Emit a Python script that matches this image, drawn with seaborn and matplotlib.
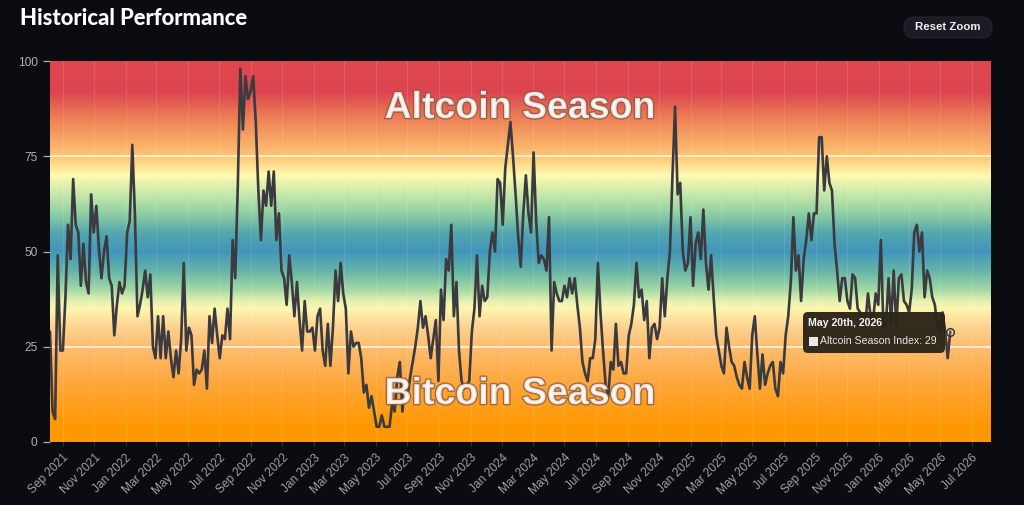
import numpy as np
import pandas as pd
import seaborn as sns
import matplotlib
matplotlib.use("Agg")
import matplotlib.pyplot as plt
import matplotlib.dates as mdates
import matplotlib.patheffects as pe
from matplotlib.colors import LinearSegmentedColormap
from matplotlib.patches import FancyBboxPatch, Rectangle

START_DATE = "2021-08-07"
END_DATE = "2026-05-20"
TITLE = "Historical Performance"
BUTTON = "Reset Zoom"
SERIES_NAME = "Altcoin Season Index"
TOOLTIP_DATE = "May 20th, 2026"
Y_TICKS = [0, 25, 50, 75, 100]

part_2021_22 = [29, 8, 6, 49, 24, 24, 38, 57, 48, 69, 57, 55, 41, 52, 42, 39, 65, 55, 62, 51,
                43, 50, 54, 43, 41, 28, 36, 42, 39, 41, 55, 58, 78, 60, 33, 36, 40, 45, 38, 44,
                25, 22, 33, 22, 33, 22, 29, 22, 17, 24, 18, 27, 47, 24, 30, 28, 15, 19]
part_2022_23 = [18, 19, 24, 14, 33, 26, 35, 28, 22, 28, 27, 35, 27, 53, 43, 67, 98, 82, 96, 90,
                92, 96, 84, 66, 53, 66, 62, 71, 62, 71, 53, 60, 45, 43, 36, 49, 42, 33, 42, 32,
                24, 37, 29, 29, 30, 24, 33, 35, 24, 20, 31, 20, 30, 45, 37, 47, 39, 35]
part_2023_24 = [18, 29, 25, 26, 26, 22, 13, 15, 9, 12, 8, 4, 4, 7, 4, 4, 4, 10, 8, 17,
                21, 8, 15, 12, 17, 21, 25, 30, 37, 30, 33, 28, 22, 27, 32, 16, 40, 32, 48, 45,
                57, 33, 42, 24, 16, 14, 15, 16, 29, 35, 49, 33, 41, 37, 38, 50, 55, 50]
part_2024_25 = [69, 68, 57, 72, 78, 84, 75, 65, 54, 46, 60, 70, 60, 55, 76, 58, 47, 49, 48, 45,
                59, 24, 42, 39, 37, 37, 41, 38, 43, 39, 43, 36, 30, 21, 18, 16, 22, 22, 27, 47,
                34, 24, 15, 12, 21, 19, 31, 20, 21, 18, 18, 28, 31, 36, 47, 38, 40, 32]
part_2025 = [37, 22, 30, 31, 27, 30, 43, 33, 43, 50, 70, 88, 65, 68, 50, 45, 47, 59, 41, 52,
             55, 48, 61, 47, 40, 49, 38, 28, 24, 20, 18, 30, 25, 21, 20, 17, 15, 14, 21, 17,
             14, 28, 33, 23, 14, 23, 15, 18, 20, 21, 14, 12, 21, 18, 28, 33, 42, 59, 45]
part_2025_26 = [49, 37, 48, 53, 60, 53, 60, 60, 80, 80, 66, 75, 68, 66, 52, 45, 37, 43, 43, 37,
                35, 44, 43, 35, 34, 32, 31, 39, 33, 32, 39, 36, 53, 30, 31, 43, 31, 45, 30, 43,
                44, 37, 36, 34, 40, 55, 57, 50, 55, 38, 45, 43, 38, 36, 30, 29, 34, 29, 22, 29]
values = part_2021_22 + part_2022_23 + part_2023_24 + part_2024_25 + part_2025 + part_2025_26

grad_stops = [0, 4, 15, 25, 30, 35, 37, 40, 45, 50, 55, 60, 65, 70, 75, 85, 92, 100]
grad_cols = ["#ff9800", "#ff9800", "#fea63a", "#fdbd70", "#fdd28e", "#fdf6b0", "#e4f1b0", "#a4d8a4",
             "#64b4a8", "#4296bb", "#55a7ae", "#8fcfa3", "#c6e8ab", "#fdfab0", "#fdc673", "#ee8056",
             "#dc4450", "#e0484f"]

dates = pd.date_range(START_DATE, END_DATE, periods=len(values))
df = pd.DataFrame({"date": dates, "index": values})

BG = "#0b0c12"
sns.set_theme(style="dark", rc={"figure.facecolor": BG, "axes.facecolor": BG})
plt.rcParams["font.family"] = ["Liberation Sans", "DejaVu Sans"]

fig = plt.figure(figsize=(10.24, 5.05), dpi=100, facecolor=BG)
W, H = 1024, 505
ax = fig.add_axes([50 / W, (H - 442) / H, 941 / W, 381 / H])

cmap = LinearSegmentedColormap.from_list("season", [(s / 100, c) for s, c in zip(grad_stops, grad_cols)], N=512)
grad = np.linspace(1, 0, 512).reshape(-1, 1)
ax.imshow(grad, cmap=cmap, vmin=0, vmax=1, extent=[0, 1, 0, 1], transform=ax.transAxes, aspect="auto", zorder=0)

sns.lineplot(data=df, x="date", y="index", ax=ax, color="#3b3a3e", linewidth=1.9, zorder=4, estimator=None)

ax.set_xlim(pd.Timestamp(START_DATE), pd.Timestamp("2026-08-07"))
ax.set_ylim(0, 100)
ax.set_xlabel("")
ax.set_ylabel("")
ax.xaxis.set_major_locator(mdates.MonthLocator(bymonth=range(1, 13, 2)))
ax.xaxis.set_major_formatter(mdates.DateFormatter("%b %Y"))
ax.set_yticks(Y_TICKS)
ax.grid(False)
for t in ax.get_xticks():
    ax.axvline(t, color="white", alpha=0.11, lw=0.8, zorder=1)
for v in (25, 75):
    ax.axhline(v, color="#fff6e4", alpha=0.95, lw=1.2, zorder=2)
ax.tick_params(axis="x", colors="#a0a0a4", labelsize=8.6, length=3, width=0.8, pad=4, color="#33343a", bottom=True)
ax.tick_params(axis="y", colors="#b0b0b4", labelsize=8.6, length=5, width=0.9, pad=4, left=True)
for lab in ax.get_xticklabels():
    lab.set_rotation(45)
    lab.set_ha("right")
    lab.set_rotation_mode("anchor")
for s in ax.spines.values():
    s.set_visible(False)

# overlay in pixel coordinates for title, button, captions and tooltip
ov = fig.add_axes([0, 0, 1, 1], zorder=10)
ov.set_xlim(0, W)
ov.set_ylim(H, 0)
ov.axis("off")
ov.patch.set_alpha(0)

shadow = [pe.withStroke(linewidth=2, foreground=(0.55, 0.35, 0.25, 0.15))]
for txt, py in (("Altcoin Season", 108), ("Bitcoin Season", 394)):
    ov.text(520, py, txt, ha="center", va="center", fontsize=27, fontweight="bold", color="white",
            alpha=0.78, path_effects=shadow)

ov.text(19.5, 18.5, TITLE, ha="left", va="center", fontsize=15.8, fontweight="black", color="white",
        family=["Lato", "DejaVu Sans"])

ov.add_patch(FancyBboxPatch((904, 17), 88, 21, boxstyle="round,pad=0,rounding_size=10.5",
                            facecolor="#1b1c23", edgecolor="#24252c", lw=0.8))
ov.text(948, 27.5, BUTTON, ha="center", va="center", fontsize=8.2, fontweight="bold", color="#f2f2f2")

# highlighted last point, read from the series, and tooltip
last_x = ax.transData.transform((mdates.date2num(df["date"].iloc[-1]), df["index"].iloc[-1]))
last_px = ov.transData.inverted().transform(last_x)
ov.add_patch(FancyBboxPatch((803, 312), 142, 41, boxstyle="round,pad=0,rounding_size=5",
                            facecolor="#2b2619", edgecolor="none", alpha=0.97))
ov.plot(*last_px, "o", ms=5.5, mfc=(1, 1, 1, 0.15), mec="#3a3a3c", mew=1.1)
ov.text(808, 323, TOOLTIP_DATE, ha="left", va="center", fontsize=7.6, fontweight="bold", color="#f5f5f5")
ov.add_patch(Rectangle((809, 337), 9, 9, facecolor="#e8e8ec", edgecolor="none"))
ov.text(820.5, 341.5, f"{SERIES_NAME}: {values[-1]}", ha="left", va="center", fontsize=7.6, color="#e8e8e8")

fig.savefig("out.png", dpi=100, facecolor=BG)
